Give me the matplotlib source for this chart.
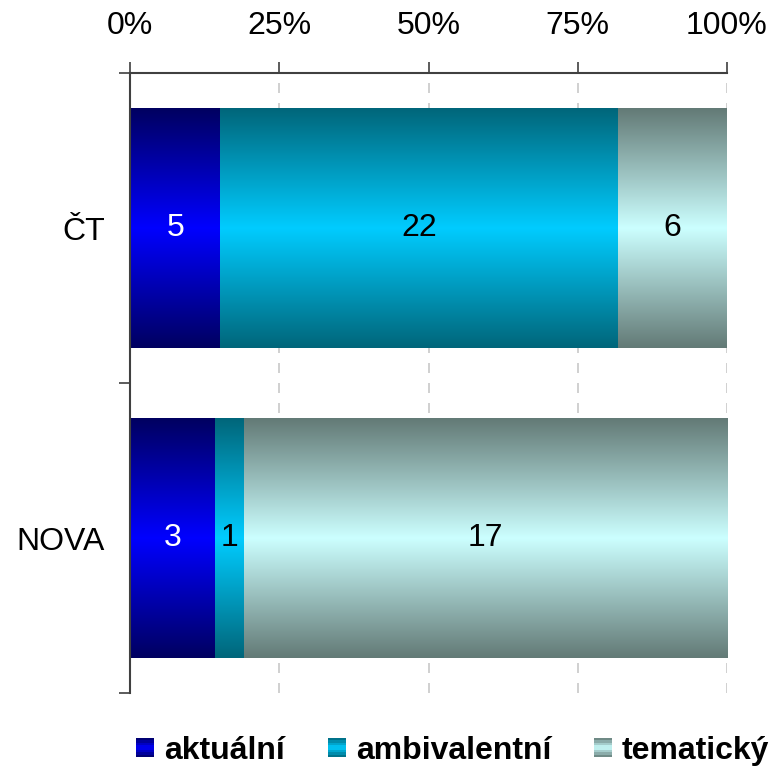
import numpy as np
import matplotlib.pyplot as plt
from matplotlib.colors import LinearSegmentedColormap
from matplotlib.patches import Rectangle
from matplotlib.legend_handler import HandlerBase

plt.rcParams['font.family'] = ['Liberation Sans', 'DejaVu Sans']

# data
stations = ['ČT', 'NOVA']
series = ['aktuální', 'ambivalentní', 'tematický']
counts = {
    'aktuální': [5, 3],
    'ambivalentní': [22, 1],
    'tematický': [6, 17],
}

# gradient colours: (edge, middle)
grad = {
    'aktuální': ('#000060', '#0000ff'),
    'ambivalentní': ('#00667a', '#00ccff'),
    'tematický': ('#637a76', '#ccffff'),
}
text_col = {'aktuální': 'white', 'ambivalentní': 'black', 'tematický': 'black'}

cmaps = {k: LinearSegmentedColormap.from_list(k, [v[0], v[1], v[0]]) for k, v in grad.items()}

fig = plt.figure(figsize=(7.71, 7.66), dpi=100)
ax = fig.add_axes([130 / 771, 73 / 766, 597 / 771, 620 / 766])

totals = np.array([sum(counts[s][i] for s in series) for i in range(len(stations))])
ypos = np.array([1, 0])  # ČT on top
h = 0.774
g = np.linspace(0, 1, 256).reshape(-1, 1)

left = np.zeros(len(stations))
for s in series:
    frac = np.array(counts[s]) / totals
    for i in range(len(stations)):
        x0, x1 = left[i], left[i] + frac[i]
        y0, y1 = ypos[i] - h / 2, ypos[i] + h / 2
        ax.imshow(g, cmap=cmaps[s], extent=(x0, x1, y0, y1), aspect='auto',
                  origin='lower', zorder=2, interpolation='bilinear')
        ax.text((x0 + x1) / 2, ypos[i], str(counts[s][i]), ha='center', va='center',
                fontsize=23, color=text_col[s], zorder=3)
    left += frac

ax.set_xlim(0, 1)
ax.set_ylim(-0.5, 1.5)
ax.xaxis.tick_top()
ax.set_xticks([0, 0.25, 0.5, 0.75, 1.0])
ax.set_xticklabels(['0%', '25%', '50%', '75%', '100%'], fontsize=23)
ax.set_yticks([-0.5, 0.5, 1.5])
ax.set_yticklabels([])
ax.set_yticks([0, 1], minor=True)
ax.set_yticklabels(['NOVA', 'ČT'], minor=True, fontsize=23)
ax.tick_params(axis='y', which='minor', length=0, pad=18)
ax.tick_params(axis='y', which='major', length=8, width=1.2, color='#404040', direction='out')
ax.tick_params(axis='x', length=8, width=1.2, color='#404040', direction='out', pad=15)
ax.grid(axis='x', color='#c8c8c8', linestyle=(0, (6, 6)), linewidth=1.2, zorder=1)
for sp in ['right', 'bottom']:
    ax.spines[sp].set_visible(False)
for sp in ['left', 'top']:
    ax.spines[sp].set_color('#404040')
    ax.spines[sp].set_linewidth(1.5)


class GradHandler(HandlerBase):
    def __init__(self, key):
        super().__init__()
        self.key = key

    def create_artists(self, legend, orig_handle, xdescent, ydescent, width, height, fontsize, trans):
        n = 8
        hh = 0.6 * fontsize
        x0 = -xdescent
        y0 = -ydescent + (height - hh) / 2
        arts = []
        for j in range(n):
            c = cmaps[self.key]((j + 0.5) / n)
            arts.append(Rectangle((x0, y0 + j * hh / n), width, hh / n, facecolor=c,
                                  edgecolor='none', transform=trans))
        return arts


handles = [Rectangle((0, 0), 1, 1) for _ in series]
hmap = {hd: GradHandler(s) for hd, s in zip(handles, series)}
fig.legend(handles, series, loc='center', bbox_to_anchor=(0.587, 0.02), ncol=3, frameon=False,
           handler_map=hmap, prop={'weight': 'bold', 'size': 23}, handlelength=0.57,
           handletextpad=0.31, columnspacing=1.34, borderpad=0, borderaxespad=0)

fig.savefig('out.png', dpi=100)
